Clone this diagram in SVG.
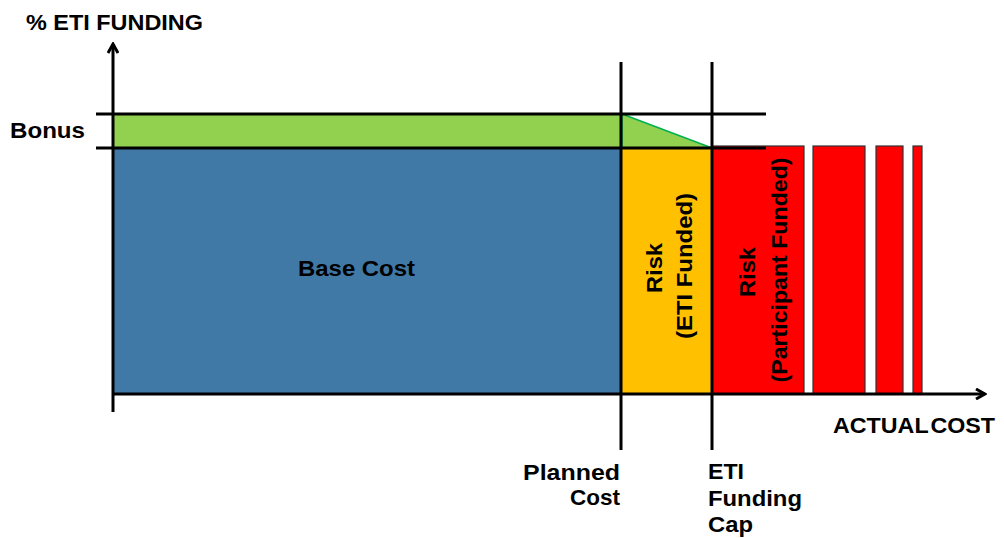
<svg xmlns="http://www.w3.org/2000/svg" width="1004" height="538" viewBox="0 0 1004 538">
<defs>
<style>
.t{font-family:"Liberation Sans",Arial,sans-serif;font-weight:bold;font-size:22px;fill:#000}
.ax{stroke:#000;stroke-width:3;fill:none}
.red{fill:#FF0000;stroke:#333;stroke-width:1.2}
</style>
<marker id="ah" markerWidth="12" markerHeight="12" viewBox="0 0 12 12" refX="10" refY="6" orient="auto" markerUnits="userSpaceOnUse">
<path d="M1,1 L10,6 L1,11" fill="none" stroke="#000" stroke-width="3"/>
</marker>
</defs>
<rect width="1004" height="538" fill="#fff"/>
<g id="bonus-area">
<rect x="113" y="114" width="507" height="34" fill="#92D050"/>
<polygon points="622,114 712,148 622,148" fill="#92D050" stroke="#00B050" stroke-width="1.5"/>
</g>
<g id="base-cost">
<rect x="113" y="148" width="507" height="246" fill="#4179A6"/>
<text class="t" x="298" y="276" textLength="117" lengthAdjust="spacingAndGlyphs">Base Cost</text>
</g>
<g id="risk-eti">
<rect x="622" y="148" width="90" height="246" fill="#FFC000"/>
<text class="t" transform="translate(662,268) rotate(-90)" text-anchor="middle" textLength="50" lengthAdjust="spacingAndGlyphs">Risk</text>
<text class="t" transform="translate(692,266) rotate(-90)" text-anchor="middle" textLength="146" lengthAdjust="spacingAndGlyphs">(ETI Funded)</text>
</g>
<g id="risk-participant">
<rect class="red" x="712" y="146" width="92" height="248"/>
<rect class="red" x="813" y="146" width="52" height="248"/>
<rect class="red" x="876" y="146" width="27" height="248"/>
<rect class="red" x="913" y="146" width="9" height="248"/>
<text class="t" transform="translate(755,272) rotate(-90)" text-anchor="middle" textLength="50" lengthAdjust="spacingAndGlyphs">Risk</text>
<text class="t" transform="translate(787,270) rotate(-90)" text-anchor="middle" textLength="225" lengthAdjust="spacingAndGlyphs">(Participant Funded)</text>
</g>
<g id="connectors">
<line class="ax" x1="96" y1="114" x2="766" y2="114"/>
<line class="ax" x1="96" y1="148" x2="766" y2="148"/>
<line class="ax" x1="621" y1="62" x2="621" y2="450"/>
<line class="ax" x1="712" y1="62" x2="712" y2="450"/>
<line class="ax" x1="113" y1="412" x2="113" y2="44" marker-end="url(#ah)"/>
<line class="ax" x1="113" y1="394" x2="985" y2="394" marker-end="url(#ah)"/>
</g>
<g id="labels">
<text class="t" x="26" y="30" textLength="177" lengthAdjust="spacingAndGlyphs">% ETI FUNDING</text>
<text class="t" x="10" y="138" textLength="75" lengthAdjust="spacingAndGlyphs">Bonus</text>
<text class="t" x="523" y="480" textLength="97" lengthAdjust="spacingAndGlyphs">Planned</text>
<text class="t" x="570" y="505" textLength="50" lengthAdjust="spacingAndGlyphs">Cost</text>
<text class="t" x="708" y="479" textLength="36" lengthAdjust="spacingAndGlyphs">ETI</text>
<text class="t" x="708" y="506" textLength="94" lengthAdjust="spacingAndGlyphs">Funding</text>
<text class="t" x="708" y="532" textLength="45" lengthAdjust="spacingAndGlyphs">Cap</text>
<text class="t" x="833" y="433" textLength="162" lengthAdjust="spacingAndGlyphs" word-spacing="-4">ACTUAL COST</text>
</g>
</svg>
